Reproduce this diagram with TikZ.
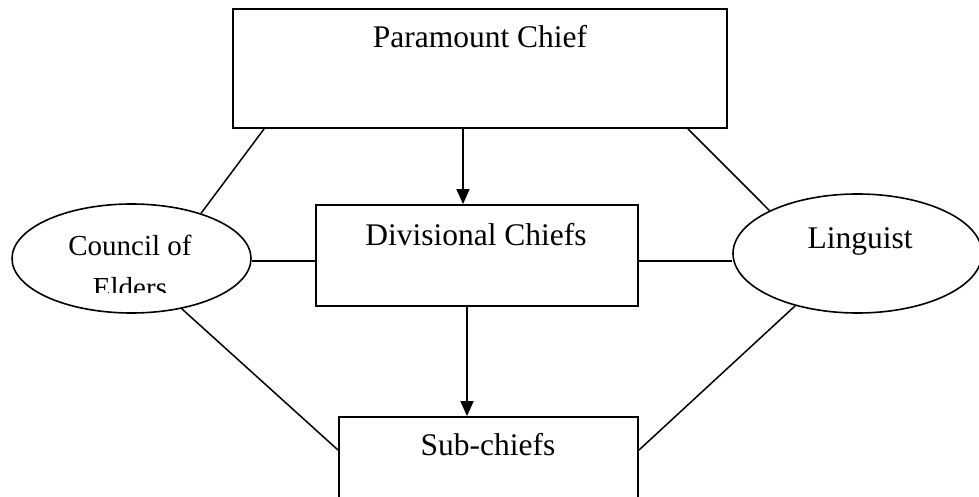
\documentclass[tikz,border=0pt]{standalone}
\usepackage{fontspec}
\setmainfont{Liberation Serif}
\usetikzlibrary{shapes.geometric,calc,arrows.meta}
\begin{document}
\begin{tikzpicture}[x=1pt,y=-1pt,
  box/.style={draw,line width=1.8pt,inner sep=0pt},
  oval/.style={draw,ellipse,line width=1.6pt,inner sep=0pt},
  lbl/.style={anchor=base,inner sep=0pt,font=\fontsize{31.5}{38}\selectfont},
  slbl/.style={anchor=base,inner sep=0pt,font=\fontsize{29}{35}\selectfont},
  link/.style={line width=1.5pt},
  arr/.style={line width=1.5pt,-{Triangle[length=15pt,width=13pt]}}]
\useasboundingbox (0,0) rectangle (979,497);
\clip (0,0) rectangle (979,497);
\fill[white] (0,0) rectangle (979,497);
% boxes
\node[box,minimum width=494,minimum height=119] (para) at (480,68.5) {};
\node[box,minimum width=322,minimum height=101] (div) at (477,255.5) {};
\node[box,minimum width=299,minimum height=110] (sub) at (488.5,472) {};
% ellipses
\node[oval,minimum width=239,minimum height=109] (council) at (131.5,258.5) {};
\node[oval,minimum width=249,minimum height=119] (ling) at (857.5,253.5) {};
% texts
\node[lbl] (tpara) at (480,48) {Paramount Chief};
\node[lbl] (tdiv) at (476,245) {Divisional Chiefs};
\node[lbl] (tsub) at (488,455) {Sub-chiefs};
\node[lbl] (tling) at (860,248) {Linguist};
\node[slbl] (tcouncil) at (130,255) {Council of};
\begin{scope}
\clip (0,0) rectangle (979,292);
\node[slbl] (telders) at (130,297) {Elders};
\end{scope}
% connectors
\draw[link] ($(para.south west)+(32,0)$) -- (council.33);
\draw[link] ($(para.south east)+(-40,0)$) -- (ling.154);
\draw[arr] ($(para.south)+(-17,0)$) -- ($(div.north)+(-14,0)$);
\draw[link] ($(council.east)+(0,2.5)$) -- ($(council.east -| div.west)+(0,2.5)$);
\draw[link] ($(div.east)+(0,5.5)$) -- ($(div.east -| ling.west)+(0,5.5)$);
\draw[arr] ($(div.south)+(-10,0)$) -- ($(sub.north)+(-21.5,0)$);
\draw[link] (council.-45) -- ($(sub.north west)+(0,34)$);
\draw[link] (ling.220) -- ($(sub.north east)+(0,34)$);
\end{tikzpicture}
\end{document}
